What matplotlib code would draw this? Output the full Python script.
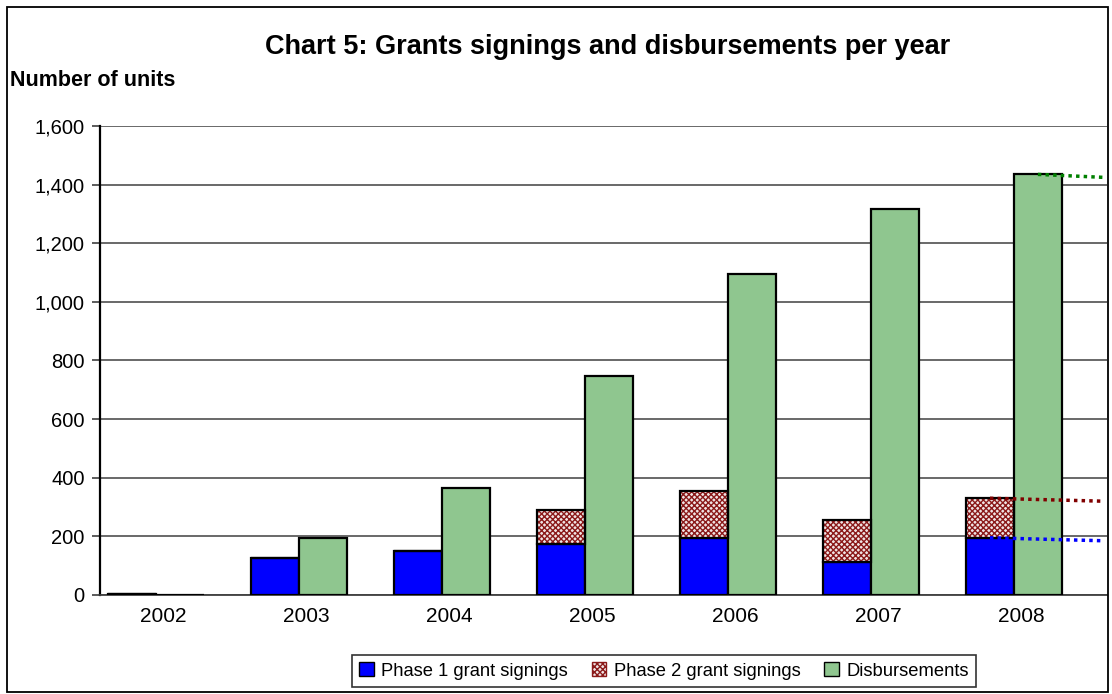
import numpy as np
import matplotlib
matplotlib.use("Agg")
import matplotlib.pyplot as plt
from matplotlib.patches import Rectangle, Patch

plt.rcParams['font.family'] = ['Liberation Sans', 'DejaVu Sans']

years = ['2002', '2003', '2004', '2005', '2006', '2007', '2008']
phase1 = [5, 125, 150, 175, 195, 112, 195]
phase2 = [0, 0, 0, 115, 160, 143, 135]
disbursements = [0, 195, 365, 748, 1095, 1318, 1435]
# dotted trend lines leaving the 2008 bars (start value, end value)
trend_p1 = [195, 185]
trend_tot = [330, 320]
trend_disb = [1435, 1425]

fig = plt.figure(figsize=(11.12, 6.94), dpi=100)
ax = fig.add_axes([0.0899, 0.1427, 0.9055, 0.6757])

x = np.arange(len(years))
w = 0.335

blue = '#0000ff'
green = '#8fc68f'
red = '#8b1a1a'

ax.bar(x - w/2, phase1, w, color=blue, edgecolor='black', linewidth=1.6, zorder=3)
# phase 2: checkered fill then black outline
ax.bar(x - w/2, phase2, w, bottom=phase1, color='#f0e4e4', edgecolor=red,
       hatch='xxxxxx', linewidth=0, zorder=3)
ax.bar(x - w/2, phase2, w, bottom=phase1, fill=False, edgecolor='black',
       linewidth=1.6, zorder=4)
ax.bar(x + w/2, disbursements, w, color=green, edgecolor='black', linewidth=1.6, zorder=3)

x_end = 6.62
x0 = x[-1] - w/2
ax.plot([x[-1] + w/2, x_end], trend_disb, ls=(0, (1, 1.2)), color='#008000', lw=2.5, zorder=5)
ax.plot([x0, x_end], trend_tot, ls=(0, (1, 1.2)), color='#800000', lw=2.5, zorder=5)
ax.plot([x0, x_end], trend_p1, ls=(0, (1, 1.2)), color='#0000ff', lw=2.5, zorder=5)

ax.set_xlim(-0.39, 6.65)
ax.set_ylim(0, 1600)
ax.set_yticks(np.arange(0, 1601, 200))
ax.set_yticklabels([f'{v:,}' for v in range(0, 1601, 200)], fontsize=14.5)
ax.set_xticks(x + 0.05)
ax.set_xticklabels(years, fontsize=15)
ax.tick_params(axis='x', length=0, pad=9)
ax.tick_params(axis='y', length=6, width=1.2, color='#404040', pad=5)
ax.yaxis.grid(True, color='#404040', lw=1.1)
ax.set_axisbelow(True)
for s in ['top', 'right']:
    ax.spines[s].set_visible(False)
ax.spines['left'].set_linewidth(1.6)
ax.spines['bottom'].set_linewidth(1.3)
ax.spines['bottom'].set_color('#404040')

fig.text(0.546, 0.932, 'Chart 5: Grants signings and disbursements per year',
         ha='center', va='center', fontsize=19.5, fontweight='bold')
fig.text(0.009, 0.884, 'Number of units', ha='left', va='center',
         fontsize=15.5, fontweight='bold')

handles = [
    Patch(facecolor=blue, edgecolor='black', label='Phase 1 grant signings'),
    Patch(facecolor='#f0e4e4', edgecolor=red, hatch='xxxxxx', label='Phase 2 grant signings'),
    Patch(facecolor=green, edgecolor='black', label='Disbursements'),
]
leg = fig.legend(handles=handles, loc='center', bbox_to_anchor=(0.597, 0.033),
                 ncol=3, fontsize=13.2, frameon=True, fancybox=False,
                 handlelength=0.8, handleheight=0.8, handletextpad=0.4,
                 columnspacing=1.3, borderpad=0.4, borderaxespad=0,
                 edgecolor='black')
leg.get_frame().set_linewidth(1.2)

fig.patches.append(Rectangle((0.006, 0.003), 0.99, 0.987, transform=fig.transFigure,
                             fill=False, edgecolor='black', lw=1.3))

fig.savefig('out.png', dpi=100)
